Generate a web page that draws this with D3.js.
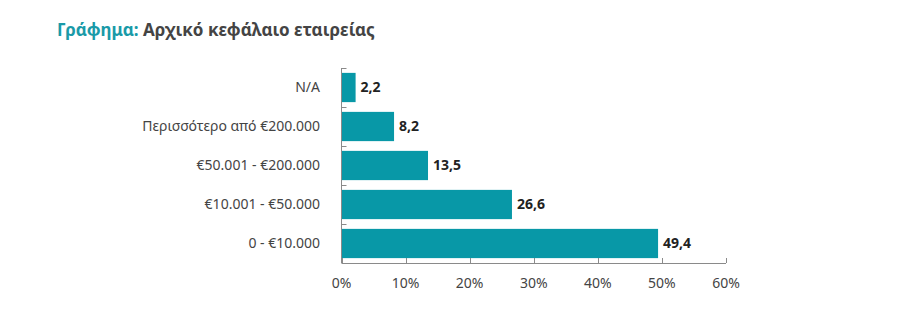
<!DOCTYPE html>
<html><head><meta charset="utf-8">
<script src="https://cdn.jsdelivr.net/npm/d3@7"></script>
<style>body{margin:0;background:#fff;}svg{display:block;}</style>
</head><body>
<script>
const categories = ["N/A", "Περισσότερο από €200.000", "€50.001 - €200.000", "€10.001 - €50.000", "0 - €10.000"];
const values = [2.2, 8.2, 13.5, 26.6, 49.4];
const xTicks = [0, 10, 20, 30, 40, 50, 60];
const titleLead = "Γράφημα:";
const titleRest = " Αρχικό κεφάλαιο εταιρείας";

const W = 912, H = 332;
const font = "'Noto Sans', 'Open Sans', sans-serif";
const svg = d3.select("body").append("svg").attr("width", W).attr("height", H);

const t = svg.append("text").attr("x", 57).attr("y", 36)
  .attr("font-family", font).attr("font-size", 17).attr("font-weight", "bold");
t.append("tspan").attr("fill", "#1a9aa8").text(titleLead);
t.append("tspan").attr("fill", "#444").text(titleRest);

const x = d3.scaleLinear().domain([0, 60]).range([341.5, 726]);
const y = d3.scaleBand().domain(categories).range([68, 263]).paddingInner(0.25).paddingOuter(0.125);

const axisColor = "#8a8a8a";
svg.selectAll("rect.bar").data(values).join("rect").attr("class", "bar")
  .attr("x", x(0)).attr("y", (d, i) => y(categories[i]))
  .attr("width", d => x(d) - x(0)).attr("height", y.bandwidth())
  .attr("fill", "#0898a7");

svg.selectAll("text.val").data(values).join("text").attr("class", "val")
  .attr("x", d => x(d) + 5).attr("y", (d, i) => y(categories[i]) + y.bandwidth() / 2)
  .attr("dy", "0.35em").attr("font-family", font).attr("font-size", 14).attr("font-weight", "bold")
  .attr("fill", "#222").text(d => d.toFixed(1).replace(".", ","));

// y axis
const step = y.step();
const bounds = categories.map(c => y(c) - step * y.paddingInner() / 2).concat([263]);
svg.append("line").attr("x1", x(0)).attr("x2", x(0)).attr("y1", 68).attr("y2", 263)
  .attr("stroke", axisColor).attr("stroke-width", 1);
svg.selectAll("line.ytick").data(bounds.slice(0, -1)).join("line").attr("class", "ytick")
  .attr("x1", x(0)).attr("x2", x(0) + 5).attr("y1", d => Math.round(d) + 0.5).attr("y2", d => Math.round(d) + 0.5)
  .attr("stroke", axisColor);
svg.selectAll("text.cat").data(categories).join("text").attr("class", "cat")
  .attr("x", 320).attr("y", d => y(d) + y.bandwidth() / 2).attr("dy", "0.35em")
  .attr("text-anchor", "end").attr("font-family", font).attr("font-size", 14).attr("fill", "#444")
  .text(d => d);

// x axis
svg.append("line").attr("x1", x(0)).attr("x2", x(60)).attr("y1", 263.5).attr("y2", 263.5)
  .attr("stroke", axisColor);
svg.selectAll("line.xtick").data(xTicks).join("line").attr("class", "xtick")
  .attr("x1", d => Math.round(x(d)) + 0.5).attr("x2", d => Math.round(x(d)) + 0.5)
  .attr("y1", 263).attr("y2", 258).attr("stroke", axisColor);
svg.selectAll("text.xl").data(xTicks).join("text").attr("class", "xl")
  .attr("x", d => x(d)).attr("y", 288).attr("text-anchor", "middle")
  .attr("font-family", font).attr("font-size", 14).attr("fill", "#444")
  .text(d => d + "%");
</script>
</body></html>
